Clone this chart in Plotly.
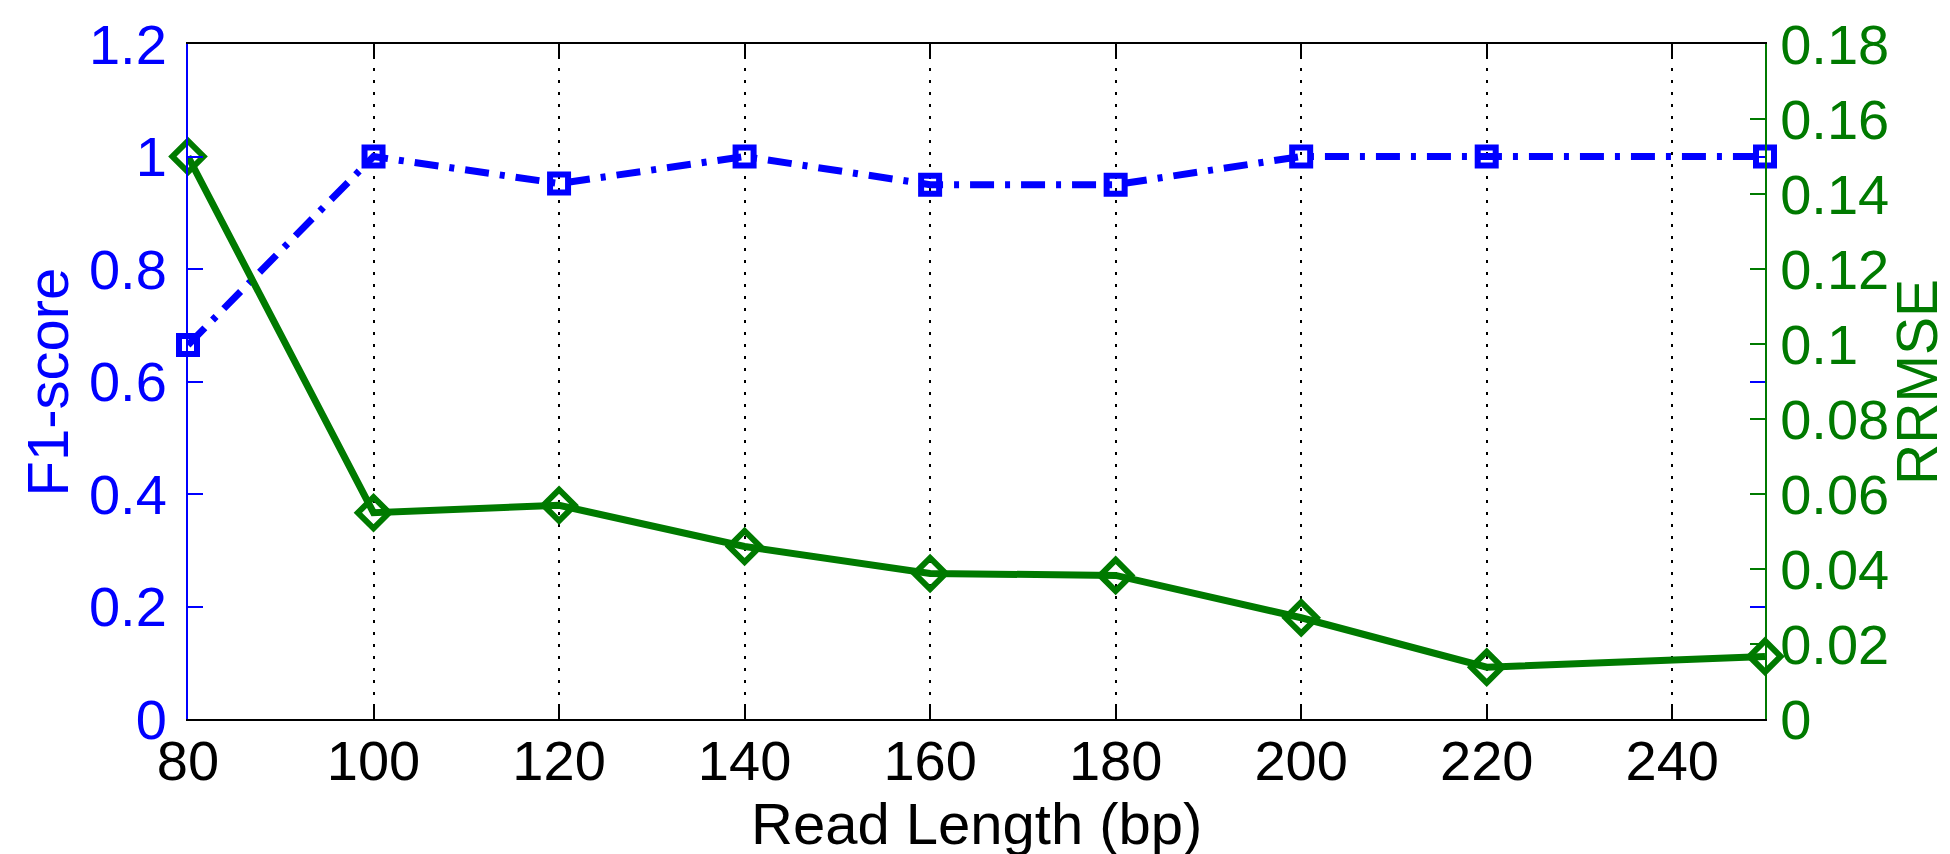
import plotly.graph_objects as go

read_length = [80, 100, 120, 140, 160, 180, 200, 220, 250]
f1_score = [0.665, 1.0, 0.952, 1.0, 0.95, 0.95, 1.0, 1.0, 1.0]
rrmse = [0.150, 0.055, 0.057, 0.046, 0.0388, 0.0383, 0.027, 0.0138, 0.0167]

x_ticks = [80, 100, 120, 140, 160, 180, 200, 220, 240]
y1_ticks = [0, 0.2, 0.4, 0.6, 0.8, 1, 1.2]
y1_text = ["0", "0.2", "0.4", "0.6", "0.8", "1", "1.2"]
y2_ticks = [0, 0.02, 0.04, 0.06, 0.08, 0.1, 0.12, 0.14, 0.16, 0.18]
y2_text = ["0", "0.02", "0.04", "0.06", "0.08", "0.1", "0.12", "0.14", "0.16", "0.18"]

x_title = "Read Length (bp)"
y1_title = "F1-score"
y2_title = "RRMSE"

BLUE = "#0000FF"
GREEN = "#007A00"
FONT = "Liberation Sans, Arial, sans-serif"

fig = go.Figure()

fig.add_trace(go.Scatter(
    x=read_length, y=rrmse, yaxis="y2", mode="lines+markers",
    line=dict(color=GREEN, width=7),
    marker=dict(symbol="diamond-open", size=24, color=GREEN, line=dict(color=GREEN, width=6)),
    showlegend=False, cliponaxis=False,
))
fig.add_trace(go.Scatter(
    x=read_length, y=f1_score, mode="lines+markers",
    line=dict(color=BLUE, width=7, dash="24px,11px,5px,11px"),
    marker=dict(symbol="square-open", size=18, color=BLUE, line=dict(color=BLUE, width=6)),
    showlegend=False, cliponaxis=False,
))

fig.update_layout(
    width=1950, height=854,
    margin=dict(l=180, r=193, t=36, b=143),
    paper_bgcolor="white", plot_bgcolor="white",
    font=dict(family=FONT, size=56, color="black"),
    xaxis=dict(
        range=[80, 250], tickvals=x_ticks, ticktext=[str(v) for v in x_ticks],
        showline=True, linecolor="black", linewidth=2, mirror="ticks",
        ticks="inside", ticklen=13, tickwidth=2, tickcolor="black",
        showgrid=True, gridcolor="black", gridwidth=2, griddash="3px,9px",
        zeroline=False, ticklabelstandoff=-8, automargin=False,
        tickfont=dict(size=56, color="black"),
    ),
    yaxis=dict(
        range=[0, 1.2], tickvals=y1_ticks, ticktext=y1_text,
        showline=True, linecolor=BLUE, linewidth=2, mirror="ticks",
        ticks="inside", ticklen=15, tickwidth=2, tickcolor=BLUE,
        showgrid=False, zeroline=False, ticklabelstandoff=8, automargin=False,
        tickfont=dict(size=56, color=BLUE),
    ),
    yaxis2=dict(
        range=[0, 0.18], tickvals=y2_ticks, ticktext=y2_text,
        overlaying="y", side="right",
        showline=True, linecolor=GREEN, linewidth=2,
        ticks="inside", ticklen=15, tickwidth=2, tickcolor=GREEN,
        showgrid=False, zeroline=False, ticklabelstandoff=2, automargin=False,
        tickfont=dict(size=56, color=GREEN),
    ),
    annotations=[
        dict(text=x_title, xref="paper", yref="paper", x=0.5, y=-0.155,
             xanchor="center", yanchor="middle", showarrow=False,
             font=dict(size=58, color="black")),
        dict(text=y1_title, xref="paper", yref="paper", x=-0.0888, y=0.5,
             xanchor="center", yanchor="middle", showarrow=False, textangle=-90,
             font=dict(size=58, color=BLUE)),
        dict(text=y2_title, xref="paper", yref="paper", x=1.096, y=0.5,
             xanchor="center", yanchor="middle", showarrow=False, textangle=-90,
             font=dict(size=57, color=GREEN)),
    ],
)

fig.write_html("out.html")
